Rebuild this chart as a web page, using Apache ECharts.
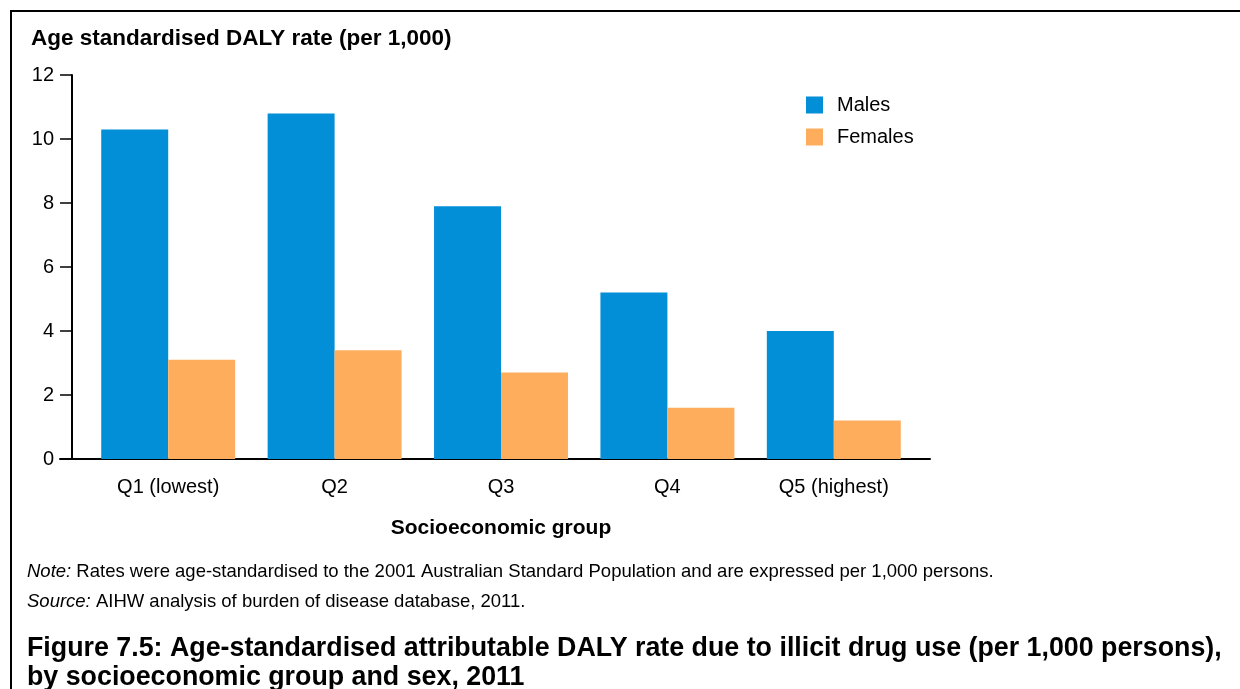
<!DOCTYPE html>
<html>
<head>
<meta charset="utf-8">
<script src="https://cdn.jsdelivr.net/npm/echarts@6/dist/echarts.min.js"></script>
<style>
html,body{margin:0;padding:0;background:#fff;}
#chart{width:1240px;height:689px;}
</style>
</head>
<body>
<div id="chart"></div>
<script>
const categories = ['Q1 (lowest)', 'Q2', 'Q3', 'Q4', 'Q5 (highest)'];
const males = [10.3, 10.8, 7.9, 5.2, 4.0];
const females = [3.1, 3.4, 2.7, 1.6, 1.2];
const yTicks = { min: 0, max: 12, interval: 2 };

const FONT = '"Liberation Sans", Arial, sans-serif';
const chart = echarts.init(document.getElementById('chart'), null, { renderer: 'canvas' });

chart.setOption({
  animation: false,
  backgroundColor: '#fff',
  textStyle: { fontFamily: FONT },
  grid: [
    { left: 85, right: 323, top: 75, bottom: 230 },
    { left: 60, right: 310, top: 75, bottom: 230 }
  ],
  xAxis: [
    {
      type: 'category', gridIndex: 0, data: categories,
      axisLine: { show: false }, axisTick: { show: false },
      axisLabel: { color: '#000', fontSize: 20, fontFamily: FONT, margin: 18 },
      name: 'Socioeconomic group', nameLocation: 'middle', nameGap: 59,
      nameTextStyle: { color: '#000', fontSize: 21, fontWeight: 'bold', fontFamily: FONT }
    },
    {
      type: 'value', gridIndex: 1, min: 0, max: 1,
      axisLine: { show: true, lineStyle: { color: '#000', width: 2 } },
      axisTick: { show: false }, axisLabel: { show: false }, splitLine: { show: false }
    }
  ],
  yAxis: [
    {
      type: 'value', gridIndex: 0, min: yTicks.min, max: yTicks.max, interval: yTicks.interval,
      offset: 13,
      axisLine: { show: true, lineStyle: { color: '#000', width: 2 } },
      axisTick: { show: true, length: 12, lineStyle: { color: '#000', width: 1.5 } },
      axisLabel: { color: '#000', fontSize: 20, fontFamily: FONT, margin: 18 },
      splitLine: { show: false }
    },
    { type: 'value', gridIndex: 1, show: false, min: 0, max: 1 }
  ],
  legend: {
    orient: 'vertical', left: 806, top: 95, padding: 0, itemWidth: 17, itemHeight: 17, itemGap: 12,
    icon: 'rect',
    textStyle: { color: '#000', fontSize: 20, fontFamily: FONT, padding: [0, 0, 0, 9] },
    data: ['Males', 'Females']
  },
  series: [
    { name: 'Males', type: 'bar', data: males, barGap: '0%', barCategoryGap: '19.5%',
      itemStyle: { color: '#038ED8' } },
    { name: 'Females', type: 'bar', data: females, barGap: '0%', barCategoryGap: '19.5%',
      itemStyle: { color: '#FEAD5C' } }
  ],
  graphic: [
    { type: 'polyline', shape: { points: [[11, 689], [11, 11], [1240, 11]] },
      style: { stroke: '#000', lineWidth: 2, fill: null } },
    { type: 'text', left: 31, top: 27,
      style: { text: 'Age standardised DALY rate (per 1,000)', fill: '#000',
        font: 'bold 22.5px "Liberation Sans", Arial, sans-serif' } },
    { type: 'text', left: 27, top: 562,
      style: { text: '{i|Note:} Rates were age-standardised to the 2001 Australian Standard Population and are expressed per 1,000 persons.',
        fill: '#000', font: '18.5px "Liberation Sans", Arial, sans-serif',
        rich: { i: { fontStyle: 'italic', fontSize: 18.5, fontFamily: FONT } } } },
    { type: 'text', left: 27, top: 592,
      style: { text: '{i|Source:} AIHW analysis of burden of disease database, 2011.',
        fill: '#000', font: '18.5px "Liberation Sans", Arial, sans-serif',
        rich: { i: { fontStyle: 'italic', fontSize: 18.5, fontFamily: FONT } } } },
    { type: 'text', left: 27, top: 634,
      style: { text: 'Figure 7.5: Age-standardised attributable DALY rate due to illicit drug use (per 1,000 persons),\nby socioeconomic group and sex, 2011',
        fill: '#000', font: 'bold 26.8px "Liberation Sans", Arial, sans-serif', lineHeight: 29 } }
  ]
});
</script>
</body>
</html>
